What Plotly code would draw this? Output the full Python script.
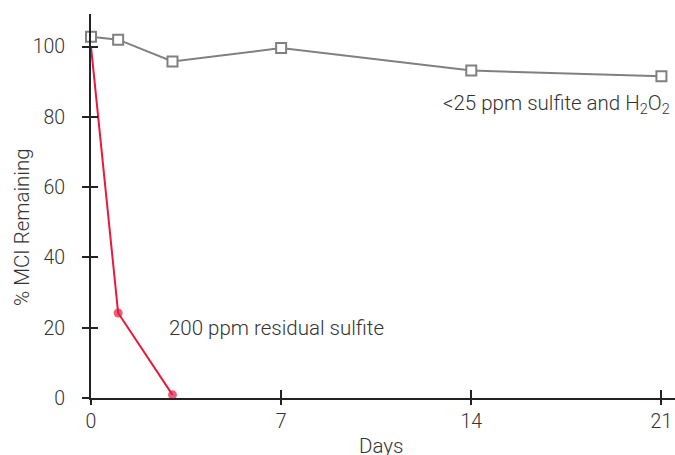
import plotly.graph_objects as go

days_h2o2 = [0, 1, 3, 7, 14, 21]
mci_h2o2 = [102.8, 102.0, 95.8, 99.6, 93.2, 91.6]
days_sulfite = [0, 1, 3]
mci_sulfite = [100, 24.2, 0.9]
x_ticks = [0, 7, 14, 21]
y_ticks = [0, 20, 40, 60, 80, 100]
label_sulfite = "200 ppm residual sulfite"
label_h2o2 = "<25 ppm sulfite and H<sub>2</sub>O<sub>2</sub>"

FONT = "Roboto, 'Open Sans', sans-serif"
TXT = "#333333"
AX = "#222222"

fig = go.Figure()
fig.add_trace(go.Scatter(
    x=days_sulfite, y=mci_sulfite, mode="lines+markers",
    line=dict(color="#e8193c", width=2),
    marker=dict(color="#e8193c", size=[0, 9, 9], line=dict(width=0)),
    showlegend=False, cliponaxis=False))
fig.add_trace(go.Scatter(
    x=days_h2o2, y=mci_h2o2, mode="lines+markers",
    line=dict(color="#808080", width=2),
    marker=dict(symbol="square", color="white", size=10,
                line=dict(color="#808080", width=2)),
    showlegend=False, cliponaxis=False))

tfont = dict(family=FONT, size=20.5, color=TXT, weight=300)
kfont = dict(family=FONT, size=19.5, color=TXT, weight=300)
fig.add_annotation(x=2.8, y=20, xref="x", yref="y", text=label_sulfite,
                   showarrow=False, xanchor="left", yanchor="middle", font=tfont)
fig.add_annotation(x=21.4, y=83.5, xref="x", yref="y", text=label_h2o2,
                   showarrow=False, xanchor="right", yanchor="middle", font=tfont)
fig.add_annotation(x=-69 / 584, y=(398 - 227) / 384, xref="paper", yref="paper",
                   text="% MCI Remaining", textangle=-90, showarrow=False,
                   xanchor="center", yanchor="middle", font=tfont)
fig.add_annotation(x=(381 - 91) / 584, y=(398 - 446) / 384, xref="paper", yref="paper",
                   text="Days", showarrow=False, xanchor="center", yanchor="middle",
                   font=tfont)

fig.update_layout(
    width=675, height=455,
    margin=dict(l=91, r=0, t=14, b=57),
    plot_bgcolor="white", paper_bgcolor="white",
    xaxis=dict(range=[0, 21.5], tickvals=x_ticks, ticktext=[str(v) for v in x_ticks],
               showgrid=False, zeroline=False, showline=True, linecolor=AX, linewidth=2,
               ticks="outside", ticklen=5, tickwidth=2, tickcolor=AX,
               tickfont=kfont, automargin=False),
    yaxis=dict(range=[0, 109.3], tickvals=y_ticks,
               showgrid=False, zeroline=False, showline=True, linecolor=AX, linewidth=2,
               ticks="outside", ticklen=7, tickwidth=2, tickcolor=AX,
               tickfont=kfont, ticklabelstandoff=13, automargin=False),
    xaxis2=dict(overlaying="x", matches="x", side="bottom", tickvals=x_ticks,
                showticklabels=False, ticks="inside", ticklen=8, tickwidth=2,
                tickcolor=AX, showgrid=False, zeroline=False, showline=False,
                automargin=False),
    yaxis2=dict(overlaying="y", matches="y", side="left", tickvals=y_ticks,
                showticklabels=False, ticks="inside", ticklen=7, tickwidth=2,
                tickcolor=AX, showgrid=False, zeroline=False, showline=False,
                automargin=False),
)
fig.add_trace(go.Scatter(x=[None], y=[None], xaxis="x2", yaxis="y2",
                         showlegend=False, hoverinfo="skip"))
fig.write_html("out.html", config={"displayModeBar": False},
               post_script="document.body.style.margin='0';document.body.style.overflow='hidden';")
